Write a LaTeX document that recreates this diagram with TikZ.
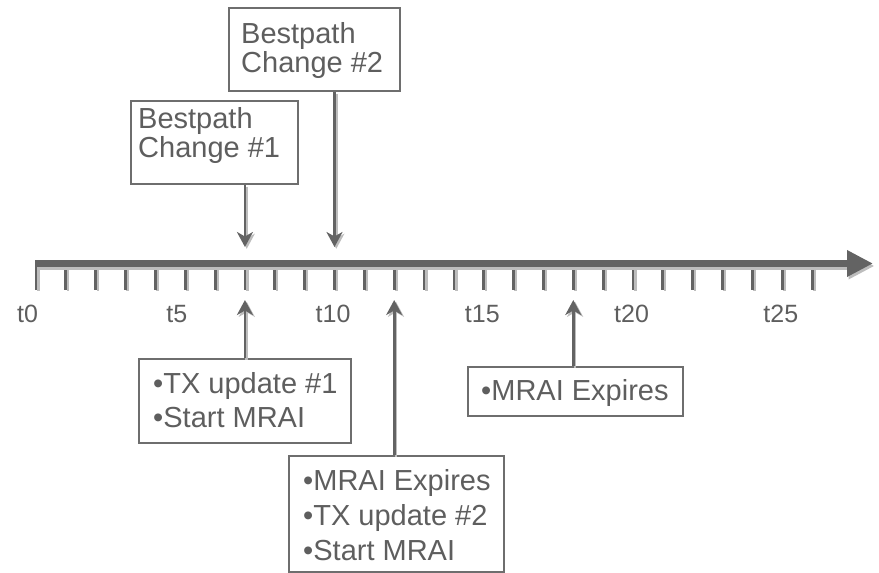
\documentclass[tikz,border=0pt]{standalone}
\usepackage{fontspec}
\setmainfont{Liberation Sans}
\usetikzlibrary{arrows.meta}
\definecolor{ink}{HTML}{636363}
\definecolor{edge}{HTML}{6E6E6E}
\definecolor{txt}{HTML}{5E5E5E}
\definecolor{halo}{HTML}{BDBDBD}
% stacked lines with a fixed baseline distance; the node's base is the first line
\newcommand\lineset[2]{\vtop{\baselineskip=#1\lineskiplimit=-50pt\lineskip=0pt #2}}
\begin{document}
\begin{tikzpicture}[x=1pt,y=-1pt,
  panel/.style={draw=edge, line width=1.8pt, inner sep=0pt, anchor=north west},
  words/.style={text=txt, inner sep=0pt, anchor=base west, font=\fontsize{29}{30}\selectfont},
  tlabel/.style={text=txt, inner sep=0pt, anchor=base west, font=\fontsize{25}{30}\selectfont},
  tipstyle/.style={-{Stealth[length=15pt,width=16pt,inset=4.5pt]}},
  pointer/.style={draw=ink, line width=2.6pt, tipstyle},
  pshade/.style={draw=halo, line width=2.6pt, tipstyle, transform canvas={shift={(1.8pt,-1.8pt)}}},
  tickmark/.style={draw=ink, line width=2.8pt},
  tshade/.style={draw=halo, line width=2.8pt, transform canvas={shift={(2.2pt,-1pt)}}},
  axisline/.style={draw=ink, line width=7pt, -{Triangle[length=26pt,width=25pt]}},
  ashade/.style={draw=halo, line width=7pt, -{Triangle[length=26pt,width=25pt]}, transform canvas={shift={(1.5pt,-2.5pt)}}}
]
\useasboundingbox (0,0) rectangle (879,573);

% time axis
\coordinate (ax0) at (35,263.5);
\coordinate (ax1) at (873,263.5);
\foreach \i in {0,...,26} {
  \coordinate (k\i) at ({36+29.85*\i},263.5);
}
\foreach \i in {0,...,26} {
  \draw[tshade] (k\i) -- ([yshift=-26.5pt]k\i);
  \draw[tickmark] (k\i) -- ([yshift=-26.5pt]k\i);
}
\draw[ashade] (ax0) -- (ax1);
\draw[axisline] (ax0) -- (ax1);

% tick labels
\foreach \i in {0,5,...,25} {
  \node[tlabel] (lab\i) at ([xshift=-19pt,yshift=-58.5pt]k\i) {t\i};
}

% arrow tips above and below the axis
\foreach \i in {7,10} {
  \coordinate (dn\i) at ([yshift=16.5pt]k\i);
}
\foreach \i in {7,12,18} {
  \coordinate (up\i) at ([yshift=-36.5pt]k\i);
}

% event boxes above the axis
\node[panel, minimum width=167pt, minimum height=83pt] (bp1) at (130,100) {};
\node[words] (bp1t) at (138,128) {\lineset{29pt}{\hbox{Bestpath}\hbox{Change \#1}}};
\node[panel, minimum width=171pt, minimum height=83pt] (bp2) at (228,7) {};
\node[words] (bp2t) at (241,43) {\lineset{29pt}{\hbox{Bestpath}\hbox{Change \#2}}};

% event boxes below the axis
\node[panel, minimum width=212pt, minimum height=84pt] (tx1) at (138,358) {};
\node[words] (tx1t) at (153,393) {\lineset{34pt}{\hbox{•TX update \#1}\hbox{•Start MRAI}}};
\node[panel, minimum width=215pt, minimum height=116pt] (tx2) at (288,455) {};
\node[words] (tx2t) at (303,490) {\lineset{35pt}{\hbox{•MRAI Expires}\hbox{•TX update \#2}\hbox{•Start MRAI}}};
\node[panel, minimum width=215pt, minimum height=49pt] (mx) at (467,366) {};
\node[words] (mxt) at (481,400) {•MRAI Expires};

% pointers to the axis
\draw[pshade] (bp1.south -| k7) -- (dn7);
\draw[pointer] (bp1.south -| k7) -- (dn7);
\draw[pshade] (bp2.south -| k10) -- (dn10);
\draw[pointer] (bp2.south -| k10) -- (dn10);
\draw[pshade] (tx1.north -| k7) -- (up7);
\draw[pointer] (tx1.north -| k7) -- (up7);
\draw[pshade] (tx2.north -| k12) -- (up12);
\draw[pointer] (tx2.north -| k12) -- (up12);
\draw[pshade] (mx.north -| k18) -- (up18);
\draw[pointer] (mx.north -| k18) -- (up18);
\end{tikzpicture}
\end{document}
